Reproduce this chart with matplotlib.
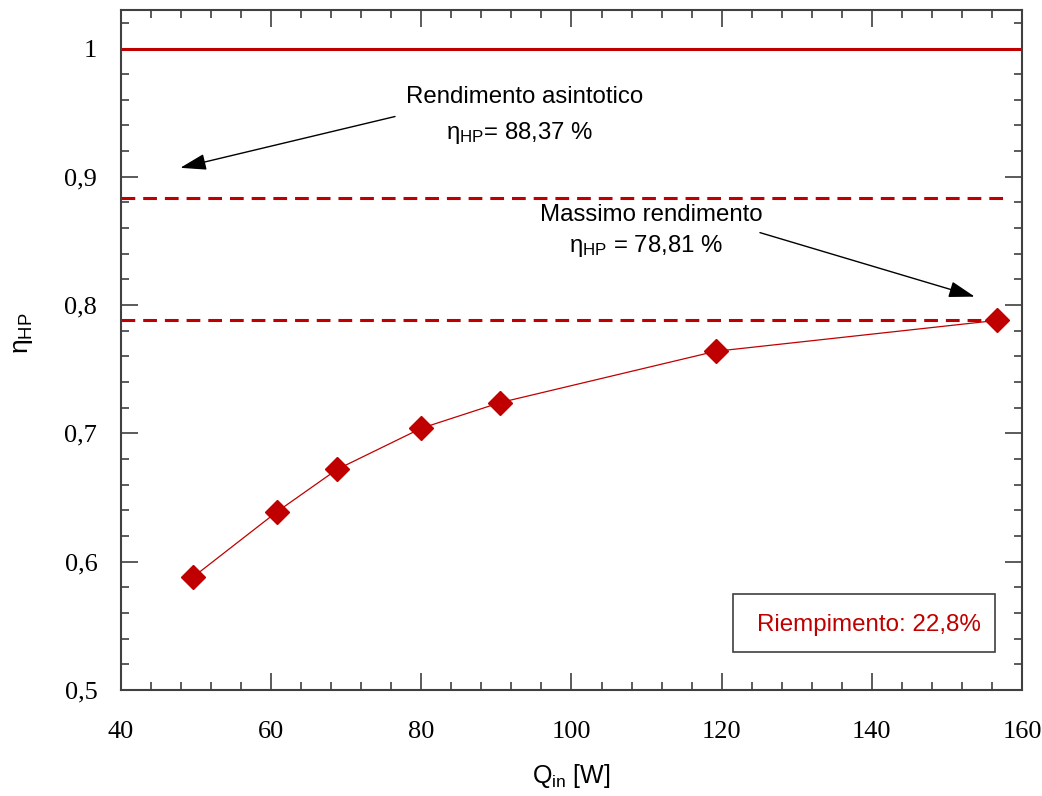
import matplotlib
matplotlib.use("Agg")
import matplotlib.pyplot as plt
from matplotlib.patches import Rectangle
from matplotlib.ticker import MultipleLocator, FuncFormatter

# measured points (heat input vs. efficiency)
q_in = [49.6, 60.8, 68.8, 80.0, 90.5, 119.2, 156.7]
eta_hp = [0.588, 0.639, 0.672, 0.704, 0.724, 0.764, 0.7881]

eta_ideal = 1.0
eta_asym = 0.8837
eta_max = 0.7881

RED = "#c00000"
GREY = "#404040"

plt.rcParams['mathtext.fontset'] = 'custom'
plt.rcParams['mathtext.rm'] = 'Liberation Sans'
plt.rcParams['mathtext.it'] = 'Liberation Sans'

fig = plt.figure(figsize=(10.42, 7.96), dpi=100)
ax = fig.add_axes([0.1161, 0.1332, 0.8647, 0.8542])

# reference lines
ax.axhline(eta_ideal, color=RED, lw=2.2)
ax.axhline(eta_asym, xmax=0.987, color=RED, lw=2.2, ls=(0, (4.5, 2.6)))
ax.axhline(eta_max, xmax=0.987, color=RED, lw=2.2, ls=(0, (4.5, 2.6)))

ax.plot(q_in, eta_hp, color=RED, lw=0.9, marker='D', ms=12,
        mfc=RED, mec=RED, zorder=5)

ax.set_xlim(40, 160)
ax.set_ylim(0.5, 1.03)
ax.xaxis.set_major_locator(MultipleLocator(20))
ax.xaxis.set_minor_locator(MultipleLocator(4))
ax.yaxis.set_major_locator(MultipleLocator(0.1))
ax.yaxis.set_minor_locator(MultipleLocator(0.02))

def comma(v, pos):
    s = f"{v:.1f}".rstrip('0').rstrip('.')
    return s.replace('.', ',')

ax.yaxis.set_major_formatter(FuncFormatter(comma))

for sp in ax.spines.values():
    sp.set_color(GREY)
    sp.set_linewidth(1.5)
ax.tick_params(which='both', direction='in', top=True, right=True,
               color=GREY, width=1.2)
ax.tick_params(which='major', length=12)
ax.tick_params(which='minor', length=6)
ax.tick_params(axis='x', pad=22)
ax.tick_params(axis='y', pad=17)
for lab in ax.get_xticklabels() + ax.get_yticklabels():
    lab.set_fontfamily('Liberation Serif')
    lab.set_fontsize(19)

ax.set_xlabel(r'Q$_{\mathrm{in}}$ [W]', fontfamily='Liberation Sans',
              fontsize=18, labelpad=14)
ax.set_ylabel(r'$\eta_{\mathrm{HP}}$', fontfamily='Liberation Sans',
              fontsize=19)
ax.yaxis.set_label_coords(-0.095, 0.525)

# annotations
txt = dict(fontfamily='Liberation Sans', fontsize=17.3, ha='center',
           va='center', color='black')
ax.text(93.7, 0.962, 'Rendimento asintotico', **txt)
ax.text(93.1, 0.934, r'$\eta_{\mathrm{HP}}$= 88,37 %', **txt)
ax.text(110.6, 0.870, 'Massimo rendimento', **txt)
ax.text(109.9, 0.846, r'$\eta_{\mathrm{HP}}$ = 78,81 %', **txt)

arrow = dict(arrowstyle='-|>,head_length=1.6,head_width=0.5',
             color='black', lw=1.0, shrinkA=0, shrinkB=0)
ax.annotate('', xy=(47.9, 0.907), xytext=(76.5, 0.947), arrowprops=arrow)
ax.annotate('', xy=(153.7, 0.8066), xytext=(125.1, 0.8565), arrowprops=arrow)

# fill-ratio label box
ax.add_patch(Rectangle((0.679, 0.056), 0.291, 0.085, transform=ax.transAxes,
                       fc='white', ec=GREY, lw=1.2, zorder=6))
ax.text(0.830, 0.0956, 'Riempimento: 22,8%', transform=ax.transAxes,
        fontfamily='Liberation Sans', fontsize=17.4, color=RED,
        ha='center', va='center', zorder=7)

fig.savefig('out.png', dpi=100)
